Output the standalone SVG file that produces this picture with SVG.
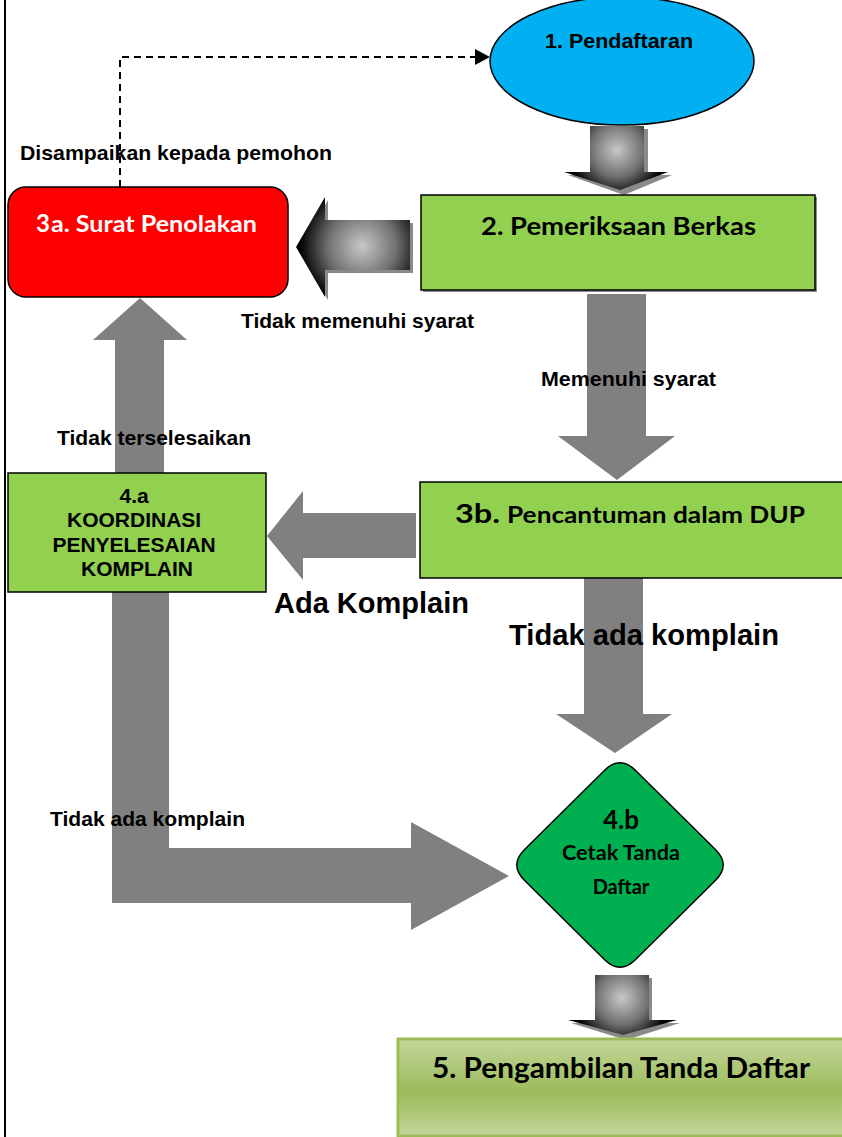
<svg xmlns="http://www.w3.org/2000/svg" width="842" height="1137" viewBox="0 0 842 1137">
<style>
.ar{font-family:"Liberation Sans",Arial,sans-serif;font-weight:bold;fill:#000}
.cb{font-family:Lato,"Open Sans",sans-serif;font-weight:bold;fill:#000}
.box{stroke:#000;stroke-width:1.5}
.flow{fill:#808080}
.shadow{fill:#8a8a8a}
</style>
<defs>
<radialGradient id="g12" gradientUnits="userSpaceOnUse" cx="617" cy="150" r="48"><stop offset="0" stop-color="#c8c8c8"/><stop offset="0.55" stop-color="#707070"/><stop offset="1" stop-color="#000"/></radialGradient>
<radialGradient id="g23" gradientUnits="userSpaceOnUse" cx="362" cy="246" r="62"><stop offset="0" stop-color="#c8c8c8"/><stop offset="0.55" stop-color="#707070"/><stop offset="1" stop-color="#000"/></radialGradient>
<radialGradient id="g45" gradientUnits="userSpaceOnUse" cx="622" cy="998" r="48"><stop offset="0" stop-color="#c8c8c8"/><stop offset="0.55" stop-color="#707070"/><stop offset="1" stop-color="#000"/></radialGradient>
<linearGradient id="g5" x1="0" y1="0" x2="0" y2="1"><stop offset="0" stop-color="#c3d69b"/><stop offset="0.55" stop-color="#9bbb59"/><stop offset="1" stop-color="#c3d69b"/></linearGradient>
</defs>
<rect width="842" height="1137" fill="#fff"/>
<line x1="5" y1="0" x2="5" y2="1137" stroke="#000" stroke-width="2"/>

<g id="connectors">
  <path d="M120,187 V57 H476" fill="none" stroke="#000" stroke-width="2" stroke-dasharray="7,5"/>
  <path d="M475,49 L490,57 L475,65 Z" fill="#000"/>
  <path class="shadow" d="M594,129 H648 V175 H672 L624,195 L568,175 H594 Z"/>
  <path d="M590,126 H644 V172 H668 L620,190 L564,172 H590 Z" fill="url(#g12)"/>
  <path class="shadow" d="M413,223 V273 H328 V300 L299,250 L328,200 V223 Z"/>
  <path d="M410,220 V270 H325 V297 L296,247 L325,197 V220 Z" fill="url(#g23)"/>
  <path class="flow" d="M587,294 H646 V436 H675 L617,480 L558,436 H587 Z"/>
  <path class="flow" d="M115,473 V340 H93 L140,298 L187,340 H164 V473 Z"/>
  <path class="flow" d="M416,513 V558 H303 V580 L267,536 L303,491 V513 Z"/>
  <path class="flow" d="M584,578 H643 V714 H672 L615,753 L556,714 H584 Z"/>
  <path class="flow" d="M112,592 H169 V848 H411 V822 L509,876 L411,930 V903 H112 Z"/>
  <path class="shadow" d="M598,978 H652 V1023 H680 L626,1040 L571,1023 H598 Z"/>
  <path d="M595,975 H649 V1020 H677 L623,1035 L568,1020 H595 Z" fill="url(#g45)"/>
</g>

<g id="n1">
  <ellipse cx="622" cy="61" rx="132" ry="64" fill="#00b0f0" class="box"/>
  <text class="ar" x="545" y="48" font-size="21" textLength="148" lengthAdjust="spacingAndGlyphs">1. Pendaftaran</text>
</g>
<g id="n2">
  <rect x="423" y="197" width="394" height="95" fill="#8c8c8c"/>
  <rect x="421" y="195" width="394" height="95" fill="#92d050" class="box"/>
  <text class="cb" x="481" y="235" font-size="25" textLength="275" lengthAdjust="spacingAndGlyphs">2. Pemeriksaan Berkas</text>
</g>
<g id="n3a">
  <rect x="8" y="187" width="280" height="110" rx="18" fill="#ff0000" class="box"/>
  <text class="cb" x="36" y="232" font-size="24" style="fill:#fff">3</text>
  <text class="cb" x="51" y="232" font-size="22" textLength="206" lengthAdjust="spacingAndGlyphs" style="fill:#fff">a. Surat Penolakan</text>
</g>
<g id="n3b">
  <rect x="420" y="482" width="425" height="96" fill="#92d050" class="box"/>
  <text class="cb" x="455" y="523" font-size="26" textLength="45" lengthAdjust="spacingAndGlyphs">3b.</text>
  <text class="cb" x="507" y="523" font-size="23" textLength="298" lengthAdjust="spacingAndGlyphs">Pencantuman dalam DUP</text>
</g>
<g id="n4a">
  <rect x="8" y="473" width="258" height="119" fill="#92d050" class="box"/>
  <text class="ar" font-size="21" text-anchor="middle">
    <tspan x="137" y="503">4.a</tspan>
    <tspan x="137" y="527">KOORDINASI</tspan>
    <tspan x="137" y="552">PENYELESAIAN</tspan>
    <tspan x="137" y="576">KOMPLAIN</tspan>
  </text>
</g>
<g id="n4b">
  <path d="M635.6,770.5 L715.4,849.5 Q731,865 715.4,880.5 L635.6,959.5 Q620,975 604.4,959.5 L524.6,880.5 Q509,865 524.6,849.5 L604.4,770.5 Q620,755 635.6,770.5 Z" fill="#00b050" class="box"/>
  <text class="cb" x="621" y="829" font-size="26" text-anchor="middle">4.b</text>
  <text class="cb" x="621" y="860" font-size="20" text-anchor="middle" textLength="118" lengthAdjust="spacingAndGlyphs">Cetak Tanda</text>
  <text class="cb" x="621" y="894" font-size="20" text-anchor="middle">Daftar</text>
</g>
<g id="n5">
  <rect x="398" y="1039" width="450" height="97" fill="url(#g5)" stroke="#9bbb59" stroke-width="3"/>
  <text class="cb" x="432" y="1078" font-size="28" textLength="378" lengthAdjust="spacingAndGlyphs">5. Pengambilan Tanda Daftar</text>
</g>

<g id="labels">
  <text class="ar" x="20" y="160" font-size="21" textLength="312" lengthAdjust="spacingAndGlyphs">Disampaikan kepada pemohon</text>
  <text class="ar" x="241" y="328" font-size="21" textLength="233" lengthAdjust="spacingAndGlyphs">Tidak memenuhi syarat</text>
  <text class="ar" x="541" y="386" font-size="21" textLength="175" lengthAdjust="spacingAndGlyphs">Memenuhi syarat</text>
  <text class="ar" x="57" y="445" font-size="21" textLength="194" lengthAdjust="spacingAndGlyphs">Tidak terselesaikan</text>
  <text class="ar" x="274" y="613" font-size="29" textLength="195" lengthAdjust="spacingAndGlyphs">Ada Komplain</text>
  <text class="ar" x="509" y="645" font-size="29" textLength="270" lengthAdjust="spacingAndGlyphs">Tidak ada komplain</text>
  <text class="ar" x="50" y="826" font-size="21" textLength="195" lengthAdjust="spacingAndGlyphs">Tidak ada komplain</text>
</g>
</svg>
